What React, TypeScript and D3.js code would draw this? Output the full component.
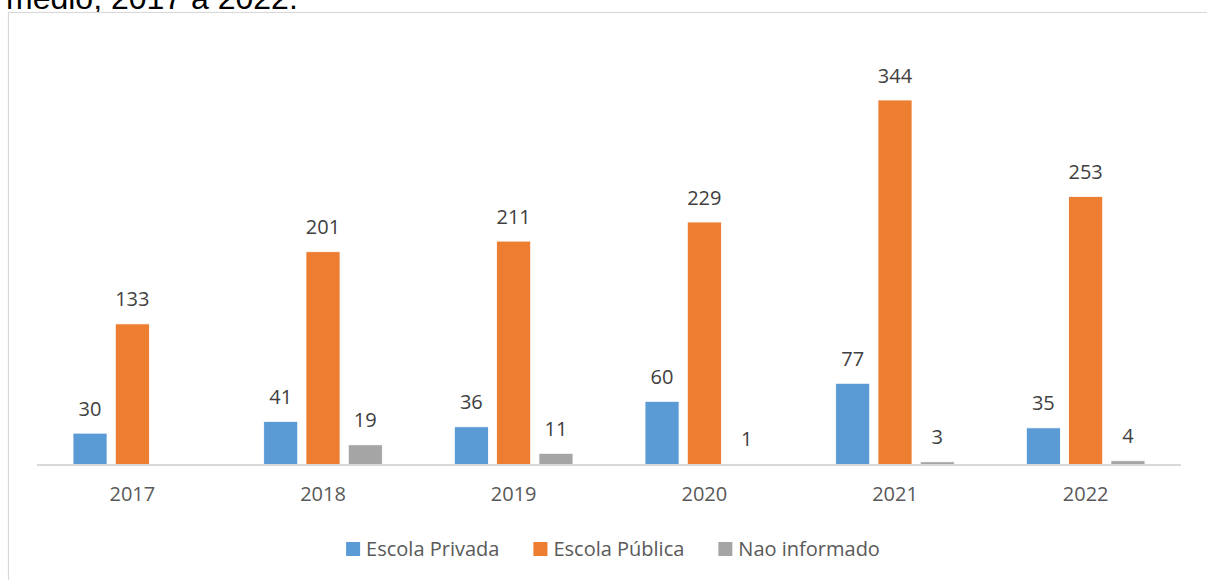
import React, { useEffect, useRef } from "react";
import * as d3 from "d3";

const years = ["2017", "2018", "2019", "2020", "2021", "2022"];
const seriesNames = ["Escola Privada", "Escola Pública", "Nao informado"];
const privada = [30, 41, 36, 60, 77, 35];
const publica = [133, 201, 211, 229, 344, 253];
const naoInformado = [null, 19, 11, 1, 3, 4];
const colors = ["#5B9BD5", "#ED7D31", "#A5A5A5"];
const titleText = "médio, 2017 a 2022.";

const W = 1207;
const H = 580;

export default function App() {
  const ref = useRef<SVGSVGElement | null>(null);

  useEffect(() => {
    const svg = d3.select(ref.current);
    svg.selectAll("*").remove();
    const font = "'Open Sans', sans-serif";

    const values = [privada, publica, naoInformado];

    const x0 = d3.scaleBand<string>().domain(years).range([37, 1181]).paddingInner(0).paddingOuter(0);
    const groupW = 118.6;
    const x1 = d3
      .scaleBand<string>()
      .domain(seriesNames)
      .range([0, groupW])
      .paddingInner(0.196)
      .paddingOuter(0);
    const y = d3.scaleLinear().domain([0, 400]).range([465, 465 - 400 * 1.061]);

    // title (cropped)
    svg
      .append("text")
      .attr("x", 6)
      .attr("y", 8.5)
      .attr("font-family", "'Liberation Sans', Arial, sans-serif")
      .attr("font-size", 32)
      .attr("fill", "#000")
      .text(titleText);

    // frame
    svg
      .append("rect")
      .attr("x", 8.5)
      .attr("y", 12.5)
      .attr("width", 1400)
      .attr("height", 800)
      .attr("fill", "none")
      .attr("stroke", "#D9D9D9")
      .attr("stroke-width", 1.2);

    const g = svg.append("g");

    years.forEach((yr, i) => {
      const gx = (x0(yr) as number) + x0.bandwidth() / 2 - groupW / 2;
      seriesNames.forEach((s, k) => {
        const v = values[k][i];
        if (v === null || v === undefined) return;
        const bx = gx + (x1(s) as number);
        g.append("rect")
          .attr("x", bx)
          .attr("y", y(v))
          .attr("width", x1.bandwidth())
          .attr("height", y(0) - y(v))
          .attr("fill", colors[k])
          .attr("stroke", "#fff")
          .attr("stroke-width", 0.75);
        g.append("text")
          .attr("x", bx + x1.bandwidth() / 2)
          .attr("y", y(v) - 17.5)
          .attr("text-anchor", "middle")
          .attr("font-family", font)
          .attr("font-size", 20)
          .attr("fill", "#404040")
          .text(String(v));
      });
    });

    // axis line
    svg
      .append("line")
      .attr("x1", 37)
      .attr("x2", 1181)
      .attr("y1", y(0))
      .attr("y2", y(0))
      .attr("stroke", "#D9D9D9")
      .attr("stroke-width", 2);

    // tick labels
    years.forEach((yr) => {
      svg
        .append("text")
        .attr("x", (x0(yr) as number) + x0.bandwidth() / 2)
        .attr("y", 501)
        .attr("text-anchor", "middle")
        .attr("font-family", font)
        .attr("font-size", 20)
        .attr("fill", "#595959")
        .text(yr);
    });

    // legend
    const leg = svg.append("g");
    const items: { sq: any; tx: any }[] = [];
    seriesNames.forEach((s, k) => {
      const sq = leg
        .append("rect")
        .attr("y", 542)
        .attr("width", 14)
        .attr("height", 14)
        .attr("fill", colors[k]);
      const tx = leg
        .append("text")
        .attr("y", 556)
        .attr("font-family", font)
        .attr("font-size", 20)
        .attr("fill", "#595959")
        .text(s);
      items.push({ sq, tx });
    });
    const widths = items.map((it) => (it.tx.node() as SVGTextElement).getComputedTextLength());
    const gap = 34;
    const total = widths.reduce((a, w) => a + 20 + w, 0) + gap * (items.length - 1);
    let cx = 613 - total / 2;
    items.forEach((it, k) => {
      it.sq.attr("x", cx);
      it.tx.attr("x", cx + 20);
      cx += 20 + widths[k] + gap;
    });
  }, []);

  return (
    <svg
      ref={ref}
      width={W}
      height={H}
      style={{ position: "absolute", left: 0, top: 0, display: "block", background: "#fff" }}
    />
  );
}
